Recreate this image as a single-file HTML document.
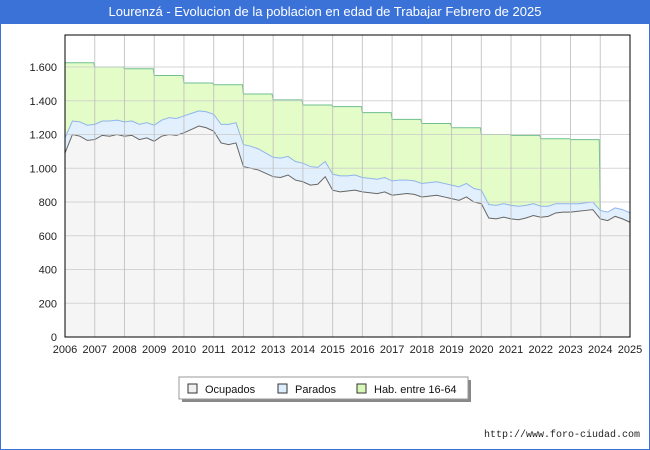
<!DOCTYPE html>
<html><head><meta charset="utf-8"><style>
body{margin:0;width:650px;height:450px;overflow:hidden;background:#fff;font-family:"Liberation Sans",sans-serif}
#wrap{position:absolute;left:0;top:0;width:648px;height:448px;border:1px solid #3a72d8}
#title{position:absolute;left:0;top:0;width:650px;height:24px;background:#3a72d8;color:#fff;font-size:13px;line-height:24px;text-align:center}
</style></head><body>
<div id="wrap"></div>
<div id="title">Lourenzá - Evolucion de la poblacion en edad de Trabajar Febrero de 2025</div>
<svg id="chart" width="650" height="450" style="position:absolute;left:0;top:0"></svg>
<script>
const years=[2006,2007,2008,2009,2010,2011,2012,2013,2014,2015,2016,2017,2018,2019,2020,2021,2022,2023,2024,2025];
const hab=[1625,1600,1590,1550,1505,1495,1440,1405,1375,1365,1330,1290,1265,1240,1200,1195,1175,1170,740];
const ocupados=[1090,1200,1190,1165,1170,1195,1190,1200,1190,1195,1170,1180,1160,1190,1200,1195,1210,1230,1250,1240,1220,1150,1140,1150,1010,1000,990,970,950,945,960,930,920,900,905,950,870,860,865,870,860,855,850,860,840,845,850,845,830,835,840,830,820,810,830,800,790,705,700,710,700,695,705,720,710,715,735,740,740,745,750,755,700,690,715,700,680];
const parados=[90,80,85,90,90,85,90,85,85,85,90,90,95,95,100,100,100,95,90,95,100,110,120,120,130,130,125,120,115,115,110,110,110,110,100,90,95,95,90,90,85,85,85,85,85,85,80,80,80,80,80,80,80,80,80,80,80,80,80,80,80,80,75,70,65,60,55,50,50,45,45,45,50,50,50,55,55];
const yTicks=[0,200,400,600,800,1000,1200,1400,1600];
const yLabels=["0","200","400","600","800","1.000","1.200","1.400","1.600"];
const L=65,R=630,T=35,B=337;
const x=v=>L+(v-2006)/(19)*(R-L);
const y=v=>B-v*0.16875;
const svg=document.getElementById('chart');
const NS='http://www.w3.org/2000/svg';
function mk(t,a){const e=document.createElementNS(NS,t);for(const k in a)e.setAttribute(k,a[k]);svg.appendChild(e);return e;}
let e=mk('rect',{x:L,y:T,width:R-L,height:B-T,fill:'#fff'});


let hp=`M${x(2006)},${y(0)}`;
hab.forEach((v,i)=>{hp+=` L${x(years[i])},${y(v)} L${x(years[i]+1)},${y(v)}`;});
hp+=` L${x(2024+1)},${y(0)} Z`;
e=mk('path',{d:hp,fill:'#e3fcc8',stroke:'none'});


let hl='';
hab.forEach((v,i)=>{hl+=(i?' L':'M')+`${x(years[i])},${y(v)} L${x(years[i]+1)-1},${y(v)}`;});
e=mk('path',{d:hl,fill:'none',stroke:'#6fbf8f','stroke-width':1});


const xs=ocupados.map((_,i)=>x(2006+i/4));
const stackTop=ocupados.map((v,i)=>v+parados[i]);
function area(vals){let d=`M${xs[0]},${y(0)}`;vals.forEach((v,i)=>d+=` L${xs[i]},${y(v)}`);return d+` L${xs[xs.length-1]},${y(0)} Z`;}
function line(vals){return vals.map((v,i)=>(i?'L':'M')+xs[i]+','+y(v)).join(' ');}
e=mk('path',{d:area(stackTop),fill:'#e2f0fe'});


e=mk('path',{d:line(stackTop),fill:'none',stroke:'#8fb4ec','stroke-width':1});


e=mk('path',{d:area(ocupados),fill:'#f5f5f5'});


e=mk('path',{d:line(ocupados),fill:'none',stroke:'#666','stroke-width':1});


yTicks.forEach((t,i)=>{
 e=mk('line',{x1:L,x2:R,y1:y(t),y2:y(t),stroke:'#ccc','stroke-width':1,'stroke-opacity':0.8});
 
 
 e=mk('text',{x:L-8,y:y(t)+4,'text-anchor':'end','font-size':11,fill:'#222'});
 e.textContent=yLabels[i];
 
 
});
years.forEach(yr=>{
 e=mk('line',{x1:x(yr),x2:x(yr),y1:T,y2:B,stroke:'#bbb','stroke-width':1,'stroke-opacity':0.8});
 
 
 e=mk('text',{x:x(yr),y:B+16,'text-anchor':'middle','font-size':11,fill:'#222'});
 e.textContent=yr;
 
 
});
e=mk('rect',{x:L,y:T,width:R-L,height:B-T,fill:'none',stroke:'#000','stroke-width':1});


e=mk('rect',{x:182,y:380,width:289,height:22,fill:'#888'});


e=mk('rect',{x:179,y:377,width:289,height:22,fill:'#fff',stroke:'#999'});


const leg=[['Ocupados','#f0f0f0',188],['Parados','#ddeeff',278],['Hab. entre 16-64','#d8f8b8',357]];
leg.forEach(([t,c,lx])=>{
 e=mk('rect',{x:lx,y:384,width:9,height:9,fill:c,stroke:'#333'});
 
 
 e=mk('text',{x:lx+17,y:393,'font-size':11,fill:'#111'});
 e.textContent=t;
 
 
});
e=mk('text',{x:640,y:437,'text-anchor':'end','font-size':10,fill:'#222','font-family':'Liberation Mono, monospace'});
e.textContent='http://www.foro-ciudad.com';


</script>
</body></html>
